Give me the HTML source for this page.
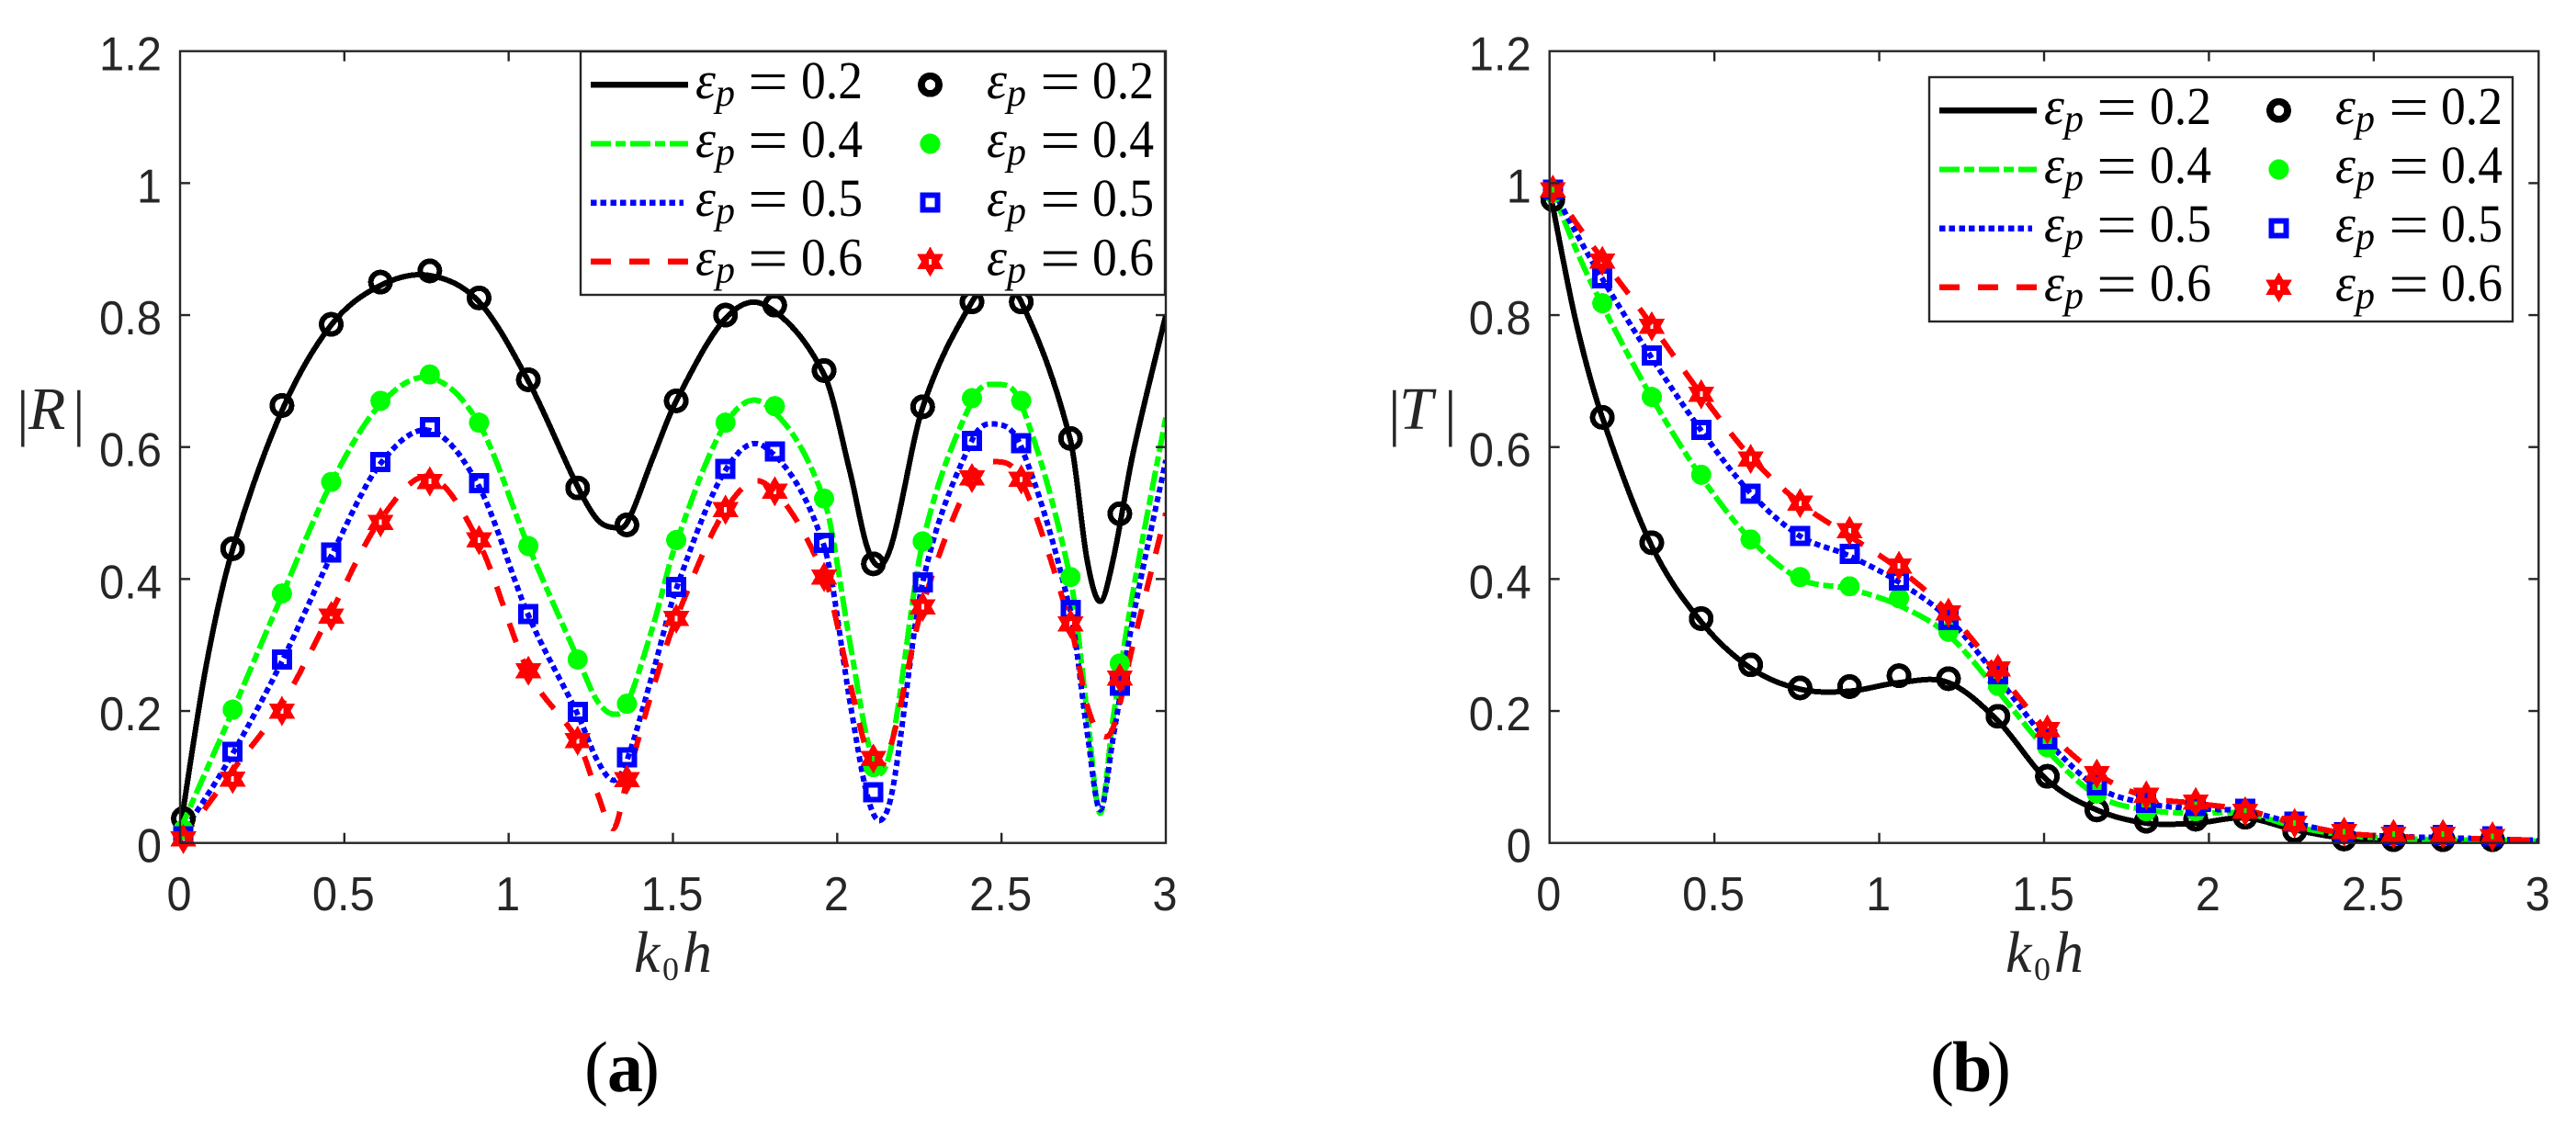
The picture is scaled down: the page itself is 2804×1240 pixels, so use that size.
<!DOCTYPE html>
<html lang="en">
<head>
<meta charset="utf-8">
<title>Reflection and transmission coefficients</title>
<style>
html,body{margin:0;padding:0;background:#fff;width:2804px;height:1240px;overflow:hidden}
svg{display:block}
text{font-family:"Liberation Serif",serif}
.tick{font-family:"Liberation Sans",sans-serif;font-size:52px;fill:#262626}
.axl{fill:#262626}
</style>
</head>
<body>
<svg id="figure" xmlns="http://www.w3.org/2000/svg" width="2804" height="1240" viewBox="0 0 2804 1240">
  <rect width="2804" height="1240" fill="#fff"/>
  <defs>
    <clipPath id="clip-a"><rect x="196" y="55.7" width="1073" height="862"/></clipPath>
    <clipPath id="clip-b"><rect x="1686.7" y="55.7" width="1076.7" height="862"/></clipPath>
  </defs>
  <g id="panel-a"></g>
  <g id="panel-b"></g>

  <g class="axl">
    <text font-size="68" y="472"><tspan x="18">|</tspan><tspan x="31" y="467" font-size="66" font-style="italic">R</tspan><tspan x="79" y="472">|</tspan></text>
  </g>
  <g class="axl">
    <text font-size="68" y="472"><tspan x="1511">|</tspan><tspan x="1523" y="467" font-size="66" font-style="italic">T</tspan><tspan x="1572" y="472">|</tspan></text>
  </g>
  <text class="axl" y="1058" font-size="64" font-style="italic"><tspan x="690">k</tspan><tspan x="721" y="1067" font-size="36" font-style="normal">0</tspan><tspan x="743" y="1058">h</tspan></text>
  <text class="axl" y="1058" font-size="64" font-style="italic"><tspan x="2183">k</tspan><tspan x="2214" y="1067" font-size="36" font-style="normal">0</tspan><tspan x="2236" y="1058">h</tspan></text>
  <text y="1188" font-size="78" fill="#000"><tspan x="636">(</tspan><tspan x="661" font-weight="bold">a</tspan><tspan x="692">)</tspan></text>
  <text y="1188" font-size="78" fill="#000"><tspan x="2101">(</tspan><tspan x="2125" font-weight="bold">b</tspan><tspan x="2163">)</tspan></text>
</svg>
<script>
// ---------- shared data ----------
const xTickLabels = ['0','0.5','1','1.5','2','2.5','3'];
const xTickValues = [0,0.5,1,1.5,2,2.5,3];
const yTickLabels = ['0','0.2','0.4','0.6','0.8','1','1.2'];
const yTickValues = [0,0.2,0.4,0.6,0.8,1,1.2];
const legendLabels = ['0.2','0.4','0.5','0.6'];
const markerK = [0.01,0.16,0.31,0.46,0.61,0.76,0.91,1.06,1.21,1.36,1.51,1.66,1.81,1.96,2.11,2.26,2.41,2.56,2.71,2.86];

// ---------- panel (a) |R| ----------
const lineKA = [0,0.08,0.16,0.31,0.46,0.61,0.76,0.91,1.06,1.21,1.27,1.32,1.36,1.44,1.51,1.66,1.78,1.96,2.04,2.09,2.13,2.17,2.26,2.41,2.48,2.56,2.71,2.76,2.80,2.84,2.90,3];
const rLine02 = [0.02,0.27,0.445,0.655,0.785,0.845,0.86,0.82,0.70,0.54,0.49,0.478,0.485,0.585,0.67,0.795,0.815,0.71,0.56,0.45,0.42,0.46,0.66,0.82,0.85,0.82,0.61,0.43,0.366,0.43,0.59,0.80];
const rLine04 = [0.02,0.11,0.20,0.375,0.545,0.665,0.705,0.635,0.45,0.28,0.215,0.195,0.21,0.33,0.455,0.635,0.665,0.52,0.30,0.16,0.105,0.16,0.455,0.67,0.695,0.665,0.40,0.20,0.045,0.19,0.38,0.645];
const rLine05 = [0.01,0.07,0.135,0.275,0.435,0.575,0.625,0.54,0.345,0.195,0.125,0.095,0.125,0.26,0.385,0.565,0.60,0.45,0.21,0.075,0.034,0.085,0.395,0.61,0.635,0.60,0.35,0.17,0.05,0.16,0.34,0.58];
const rLine06 = [0.005,0.055,0.11,0.21,0.35,0.49,0.555,0.455,0.26,0.155,0.075,0.022,0.095,0.235,0.34,0.505,0.545,0.405,0.24,0.14,0.115,0.16,0.36,0.555,0.578,0.55,0.33,0.21,0.165,0.175,0.30,0.50];
const rMark02 = [0.037,0.446,0.663,0.786,0.85,0.867,0.826,0.702,0.538,0.482,0.67,0.80,0.815,0.716,0.423,0.661,0.82,0.82,0.613,0.499];
const rMark04 = [0.02,0.202,0.378,0.547,0.67,0.71,0.637,0.45,0.278,0.211,0.459,0.637,0.662,0.522,0.115,0.457,0.674,0.67,0.403,0.272];
const rMark05 = [0.01,0.138,0.278,0.44,0.577,0.63,0.545,0.347,0.199,0.13,0.388,0.567,0.593,0.455,0.077,0.395,0.609,0.606,0.353,0.238];
const rMark06 = [0.006,0.097,0.20,0.344,0.486,0.548,0.459,0.261,0.155,0.096,0.34,0.505,0.533,0.403,0.128,0.358,0.553,0.551,0.332,0.25];

// ---------- panel (b) |T| ----------
const lineKB = [0,0.08,0.16,0.31,0.46,0.61,0.76,0.91,1.06,1.21,1.36,1.51,1.66,1.81,1.96,2.11,2.26,2.41,2.56,2.71,2.86,3];
const tLine02 = [0.99,0.79,0.645,0.45,0.335,0.265,0.233,0.23,0.243,0.243,0.185,0.095,0.05,0.03,0.03,0.038,0.02,0.007,0.003,0.002,0.002,0.002];
const tLine04 = [1,0.90,0.815,0.675,0.555,0.46,0.40,0.385,0.36,0.315,0.23,0.14,0.072,0.05,0.045,0.045,0.025,0.012,0.007,0.005,0.004,0.003];
const tLine05 = [1,0.925,0.855,0.735,0.625,0.53,0.465,0.435,0.395,0.34,0.25,0.155,0.085,0.06,0.052,0.048,0.03,0.015,0.01,0.008,0.006,0.004];
const tLine06 = [1,0.94,0.885,0.785,0.68,0.585,0.515,0.465,0.415,0.35,0.26,0.17,0.105,0.07,0.06,0.05,0.03,0.015,0.01,0.007,0.006,0.004];
const tMark02 = [0.975,0.645,0.455,0.34,0.27,0.235,0.237,0.2535,0.249,0.192,0.101,0.05,0.033,0.036,0.039,0.018,0.006,0.005,0.005,0.005];
const tMark04 = [0.985,0.818,0.676,0.558,0.46,0.403,0.389,0.371,0.32,0.238,0.145,0.075,0.048,0.048,0.05,0.03,0.015,0.01,0.01,0.01];
const tMark05 = [0.99,0.856,0.739,0.626,0.529,0.465,0.438,0.398,0.338,0.256,0.157,0.087,0.061,0.056,0.052,0.032,0.016,0.012,0.012,0.01];
const tMark06 = [0.99,0.882,0.783,0.68,0.582,0.515,0.473,0.42,0.349,0.264,0.172,0.105,0.072,0.062,0.048,0.03,0.017,0.0135,0.0135,0.01];

const NS = 'http://www.w3.org/2000/svg';
const INK = '#262626';
const colors = ['#000000','#00ff00','#0000ff','#ff0000'];
const dashes = ['', '22 5 11 5', '6.5 4.2', '22 20'];

function make(parent, tag, attrs, txt){
  const e = document.createElementNS(NS, tag);
  for (const k in attrs) e.setAttribute(k, attrs[k]);
  if (txt !== undefined) e.textContent = txt;
  parent.appendChild(e);
  return e;
}
function smoothPath(xs, ys){
  const n = xs.length, m = [];
  for (let i = 0; i < n; i++){
    const a = Math.max(0, i-1), b = Math.min(n-1, i+1);
    m.push((ys[b]-ys[a])/(xs[b]-xs[a]));
  }
  let d = 'M' + xs[0].toFixed(2) + ' ' + ys[0].toFixed(2);
  for (let i = 0; i < n-1; i++){
    const h = (xs[i+1]-xs[i])/3;
    d += 'C' + (xs[i]+h).toFixed(2) + ' ' + (ys[i]+m[i]*h).toFixed(2) + ' ' +
         (xs[i+1]-h).toFixed(2) + ' ' + (ys[i+1]-m[i+1]*h).toFixed(2) + ' ' +
         xs[i+1].toFixed(2) + ' ' + ys[i+1].toFixed(2);
  }
  return d;
}
function starPath(cx, cy, R){
  let d = '';
  for (let i = 0; i < 12; i++){
    const a = (-90 + 30*i) * Math.PI/180, r = i%2 ? R/Math.sqrt(3) : R;
    d += (i ? 'L' : 'M') + (cx + r*Math.cos(a)).toFixed(2) + ' ' + (cy + r*Math.sin(a)).toFixed(2);
  }
  d += 'Z';
  d += 'M' + (cx-1.5) + ' ' + (cy-3) + 'h3v6h-3Z';
  return d;
}
function drawMarker(g, series, cx, cy, legend){
  let el;
  if (series === 0){
    el = make(g, 'circle', {cx:cx, cy:cy, r:legend?9.6:10.5, fill:'none', stroke:colors[0], 'stroke-width':legend?7.7:6, 'shape-rendering':'crispEdges'});
  } else if (series === 1){
    el = make(g, 'circle', {cx:cx, cy:cy, r:11, fill:colors[1], 'shape-rendering':'crispEdges'});
  } else if (series === 2){
    el = make(g, 'rect', {x:cx-8, y:cy-8, width:16, height:16, fill:'none', stroke:colors[2], 'stroke-width':6, 'shape-rendering':'crispEdges'});
  } else {
    el = make(g, 'path', {d:starPath(cx,cy,16.5), fill:colors[3], 'fill-rule':'evenodd', 'shape-rendering':'crispEdges'});
  }
  return el;
}
function tickWidth(s){
  let w = 0;
  for (const c of s) w += (c === '.') ? 14 : 27;
  return w;
}

function drawPanel(cfg){
  const g = document.getElementById(cfg.id);
  const X = k => cfg.left + (cfg.right - cfg.left) * k / 3;
  const Y = v => cfg.bottom - (cfg.bottom - cfg.top) * v / 1.2;

  // series lines
  const linesG = make(g, 'g', {'clip-path':'url(#'+cfg.clip+')'});
  
  
  cfg.lines.forEach((vals, s) => {
    const p = make(linesG, 'path', {
      d: smoothPath(cfg.lineK.map(X), vals.map(Y)),
      fill:'none', stroke:colors[s], 'stroke-width':6, 'shape-rendering':'crispEdges',
      'stroke-dasharray': dashes[s] || 'none'
    });
    
    
  });

  // series markers
  const marksG = make(g, 'g', {});
  
  
  cfg.marks.forEach((vals, s) => {
    vals.forEach((v, i) => {
      const m = drawMarker(marksG, s, X(markerK[i]), Y(v), false);
      
      
    });
  });

  // axes box
  const box = make(g, 'rect', {x:cfg.left, y:cfg.top, width:cfg.right-cfg.left, height:cfg.bottom-cfg.top, fill:'none', stroke:INK, 'stroke-width':2.4});
  
  

  // x ticks
  xTickValues.forEach((t, i) => {
    const x = X(t);
    if (i > 0 && i < xTickValues.length-1){
      const tb = make(g, 'line', {x1:x, x2:x, y1:cfg.bottom, y2:cfg.bottom-11, stroke:INK, 'stroke-width':2.4});
      
      
      const tt = make(g, 'line', {x1:x, x2:x, y1:cfg.top, y2:cfg.top+11, stroke:INK, 'stroke-width':2.4});
      
      
    }
    const lab = make(g, 'text', {x:x-1, y:991, 'text-anchor':'middle', class:'tick', textLength:tickWidth(xTickLabels[i]), lengthAdjust:'spacingAndGlyphs'}, xTickLabels[i]);
    
    
  });

  // y ticks
  yTickValues.forEach((t, i) => {
    const y = Y(t);
    if (i > 0 && i < yTickValues.length-1){
      const tl = make(g, 'line', {x1:cfg.left, x2:cfg.left+11, y1:y, y2:y, stroke:INK, 'stroke-width':2.4});
      
      
      const tr = make(g, 'line', {x1:cfg.right, x2:cfg.right-11, y1:y, y2:y, stroke:INK, 'stroke-width':2.4});
      
      
    }
    const lab = make(g, 'text', {x:cfg.left-20, y:y+21, 'text-anchor':'end', class:'tick', textLength:tickWidth(yTickLabels[i]), lengthAdjust:'spacingAndGlyphs'}, yTickLabels[i]);
    
    
  });

  // legend
  const L = cfg.legend.x, T = cfg.legend.y;
  const lg = make(g, 'g', {});
  
  
  const frame = make(lg, 'rect', {x:L, y:T, width:cfg.legend.w, height:cfg.legend.h, fill:'#fff', stroke:INK, 'stroke-width':2.4});
  
  
  legendLabels.forEach((label, r) => {
    const y = T + 36.3 + 64.2 * r;
    const base = y + 14.5;
    const sample = make(lg, 'line', {x1:L+11, x2:L+(r===2?112:117), y1:y, y2:y, stroke:colors[r], 'stroke-width':6.4, 'shape-rendering':'crispEdges', 'stroke-dasharray':dashes[r]||'none'});
    
    
    const mk = drawMarker(lg, r, L+380.5, y, true);
    
    
    [[125,182,240],[442,500,557]].forEach(col => {
      const t1 = make(lg, 'text', {x:L+col[0], y:base, 'font-size':58, 'font-style':'italic', fill:'#000', textLength:22, lengthAdjust:'spacingAndGlyphs'}, '\u03b5');
      
      
      const t2 = make(lg, 'text', {x:L+col[0]+22, y:base+8, 'font-size':42, 'font-style':'italic', fill:'#000'}, 'p');
      
      
      const t3 = make(lg, 'text', {x:L+col[1], y:base+3, 'font-size':64, fill:'#000', textLength:44, lengthAdjust:'spacingAndGlyphs'}, '=');
      
      
      const t4 = make(lg, 'text', {x:L+col[2], y:base, 'font-size':58, fill:'#000', textLength:67, lengthAdjust:'spacingAndGlyphs'}, label);
      
      
    });
  });
}

drawPanel({
  id:'panel-a', clip:'clip-a', left:196, right:1269, top:55.7, bottom:917.7,
  lineK:lineKA, lines:[rLine02,rLine04,rLine05,rLine06], marks:[rMark02,rMark04,rMark05,rMark06],
  legend:{x:632, y:56, w:636, h:265}
});
drawPanel({
  id:'panel-b', clip:'clip-b', left:1686.7, right:2763.3, top:55.7, bottom:917.7,
  lineK:lineKB, lines:[tLine02,tLine04,tLine05,tLine06], marks:[tMark02,tMark04,tMark05,tMark06],
  legend:{x:2100, y:84, w:635, h:266}
});
</script>
</body>
</html>
